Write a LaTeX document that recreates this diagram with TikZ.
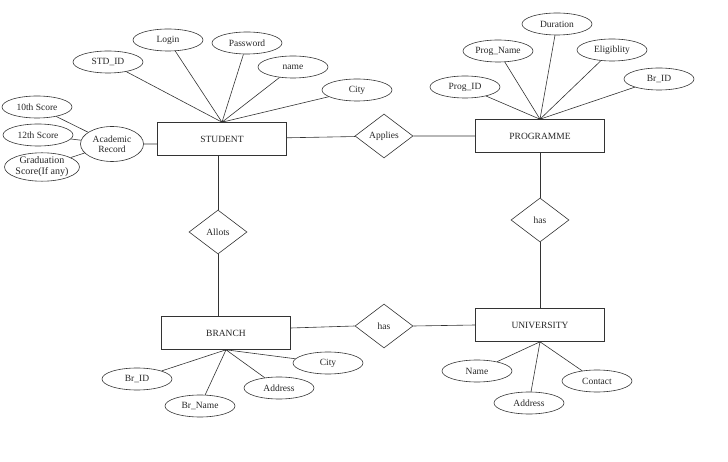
\documentclass[tikz,border=0pt]{standalone}
\usepackage{fontspec}
\setmainfont{Liberation Serif}
\usetikzlibrary{shapes.geometric}

\begin{document}
\begin{tikzpicture}[x=1pt, y=-1pt, line width=0.6pt, draw=black!80,
	every node/.style={font=\fontsize{9.5}{10}\selectfont, text=black!85},
	entity/.style={draw, rectangle, minimum width=129pt, minimum height=33pt, inner sep=0pt},
	attr/.style={draw, ellipse, minimum width=70pt, minimum height=22pt, inner sep=0pt},
	rel/.style={draw, diamond, minimum width=58pt, minimum height=44pt, inner sep=0pt}]
\useasboundingbox (0,0) rectangle (728,462);
% nodes
\node [entity] (student) at (222,139) {STUDENT};
\node [entity] (programme) at (540,136) {PROGRAMME};
\node [entity] (branch) at (226,333) {BRANCH};
\node [entity] (university) at (540,325) {UNIVERSITY};
\node [rel] (applies) at (384,136) {Applies};
\node [rel] (allots) at (218,232) {Allots};
\node [rel] (hasprog) at (540,220) {has};
\node [rel] (hasuni) at (384,326) {has};
% student attributes
\node [attr] (login) at (168,40) {Login};
\node [attr] (password) at (247,43) {Password};
\node [attr] (stdid) at (108,62) {STD\_ID};
\node [attr] (name) at (293,67) {name};
\node [attr] (city) at (357,90) {City};
\node [attr, minimum width=63pt, minimum height=35pt, align=center] (academic) at (112,144) {Academic\\Record};
\node [attr] (tenth) at (37,107) {10th Score};
\node [attr] (twelfth) at (38,135) {12th Score};
\node [attr, minimum height=25pt, align=center, font=\fontsize{10}{11}\selectfont] (grad) at (42,167) {Graduation\\Score(If any)};
% programme attributes
\node [attr] (duration) at (557,24) {Duration};
\node [attr] (progname) at (498,51) {Prog\_Name};
\node [attr] (eligib) at (612,50) {Eligiblity};
\node [attr] (progid) at (465,87) {Prog\_ID};
\node [attr] (prbrid) at (659,79) {Br\_ID};
% branch attributes
\node [attr] (brid) at (137,379) {Br\_ID};
\node [attr] (brname) at (200,406) {Br\_Name};
\node [attr] (braddr) at (279,388) {Address};
\node [attr] (brcity) at (328,363) {City};
% university attributes
\node [attr] (uniname) at (477,371) {Name};
\node [attr] (uniaddr) at (529,403) {Address};
\node [attr] (unicont) at (597,381) {Contact};
% lines
\draw (student) -- (applies) -- (programme);
\draw (allots.north) -- (allots |- student.south);
\draw (allots.south) -- (allots |- branch.north);
\draw (programme) -- (hasprog) -- (university);
\draw (branch.east |- 0,328) -- (hasuni.west);
\draw (hasuni.east) -- (university.west |- 0,325);
\draw (login) -- (student.north)
	(password) -- (student.north)
	(stdid) -- (student.north)
	(name) -- (student.north)
	(city) -- (student.north)
	(academic) -- (student.west |- academic)
	(tenth) -- (academic)
	(twelfth) -- (academic)
	(grad) -- (academic);
\draw (duration) -- (programme.north)
	(progname) -- (programme.north)
	(eligib) -- (programme.north)
	(progid) -- (programme.north)
	(prbrid) -- (programme.north);
\draw (brid) -- (branch.south)
	(brname) -- (branch.south)
	(braddr) -- (branch.south)
	(brcity) -- (branch.south);
\draw (uniname) -- (university.south)
	(uniaddr) -- (university.south)
	(unicont) -- (university.south);
\end{tikzpicture}
\end{document}
